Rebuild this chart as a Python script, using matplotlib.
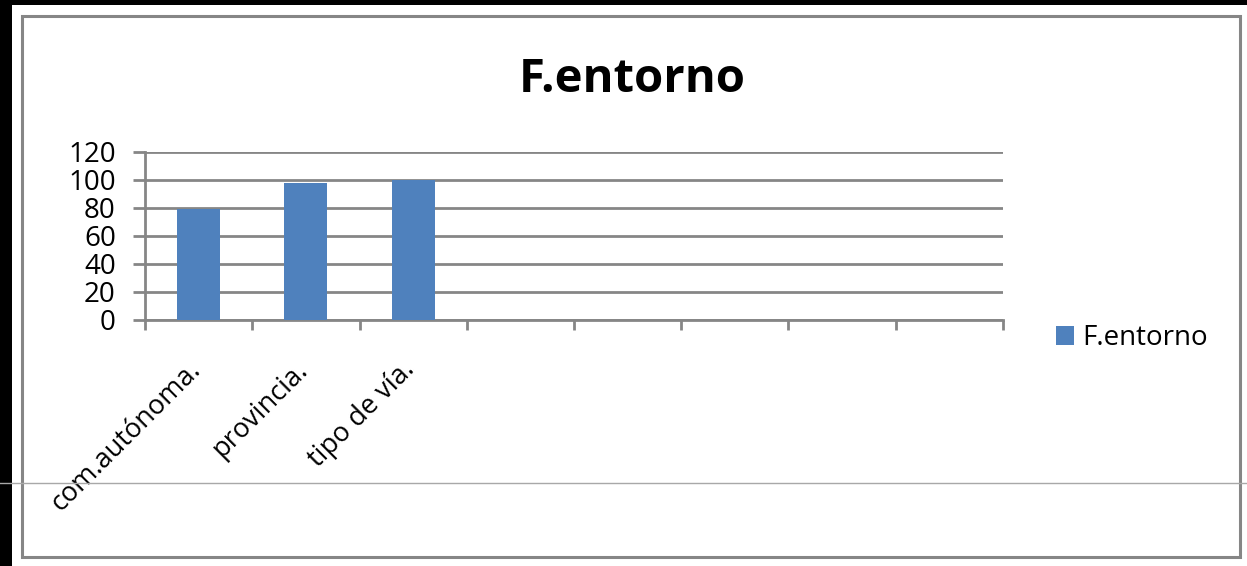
import matplotlib.pyplot as plt
import matplotlib.transforms as mtransforms
from matplotlib.patches import Rectangle
from matplotlib.lines import Line2D

# Datos del gráfico
categorias = ["com.autónoma.", "provincia.", "tipo de vía.", "", "", "", "", ""]
valores = [79, 98, 100, 0, 0, 0, 0, 0]
serie = "F.entorno"
marcas_y = [0, 20, 40, 60, 80, 100, 120]

plt.rcParams['font.family'] = ['Open Sans', 'DejaVu Sans']

fig = plt.figure(figsize=(12.47, 5.66), dpi=100, facecolor='black')

# fondo blanco y marco gris del gráfico
fig.patches.append(Rectangle((12/1247, 0), 1 - 12/1247, 1 - 5/566, transform=fig.transFigure,
                             facecolor='white', edgecolor='none', zorder=-2))
fig.patches.append(Rectangle((22/1247, 9/566), 1218/1247, 541/566, transform=fig.transFigure,
                             facecolor='none', edgecolor='#868686', linewidth=2.2, zorder=-1))
fig.lines.append(Line2D([0, 1], [1 - 483/566, 1 - 483/566], transform=fig.transFigure,
                        color='#a8a8a8', linewidth=1, zorder=5))

ax = fig.add_axes([145/1247, 1 - 320/566, 858/1247, 168/566])
ax.set_facecolor('none')
ax.set_zorder(2)

x = range(len(categorias))
ax.bar(x, valores, width=0.4, color='#4F81BD', zorder=3, label=serie)

ax.set_xlim(-0.5, len(categorias) - 0.5)
ax.set_ylim(0, 120)
ax.set_yticks(marcas_y)
ax.tick_params(axis='y', length=9, width=2, color='#868686', labelsize=20, pad=12)
ax.yaxis.grid(True, color='#868686', linewidth=2)
ax.set_axisbelow(True)

ax.set_xticks([i - 0.5 for i in range(len(categorias) + 1)], minor=False)
ax.set_xticklabels([])
ax.tick_params(axis='x', length=7, width=2, color='#868686')
ax.set_xticks(list(x), minor=True)
ax.set_xticklabels(categorias, minor=True, rotation=45, ha='right', va='top',
                   rotation_mode='anchor', fontsize=19.5)
ax.tick_params(axis='x', which='minor', length=0, pad=26)
offset = mtransforms.ScaledTranslation(-0.12, 0, fig.dpi_scale_trans)
for lab in ax.get_xticklabels(minor=True):
    lab.set_transform(lab.get_transform() + offset)

for lado in ['top', 'right']:
    ax.spines[lado].set_visible(False)
for lado in ['left', 'bottom']:
    ax.spines[lado].set_color('#868686')
    ax.spines[lado].set_linewidth(2)

fig.text(632/1247, 1 - 80/566, "F.entorno", ha='center', va='center',
         fontsize=34, fontweight='bold')

leg = fig.legend(loc='center left', bbox_to_anchor=(1042/1247, 1 - 338/566),
                 frameon=False, fontsize=20, handlelength=0.65, handleheight=0.65,
                 handletextpad=0.3, borderpad=0)

fig.savefig("out.png", dpi=100, facecolor='black')
